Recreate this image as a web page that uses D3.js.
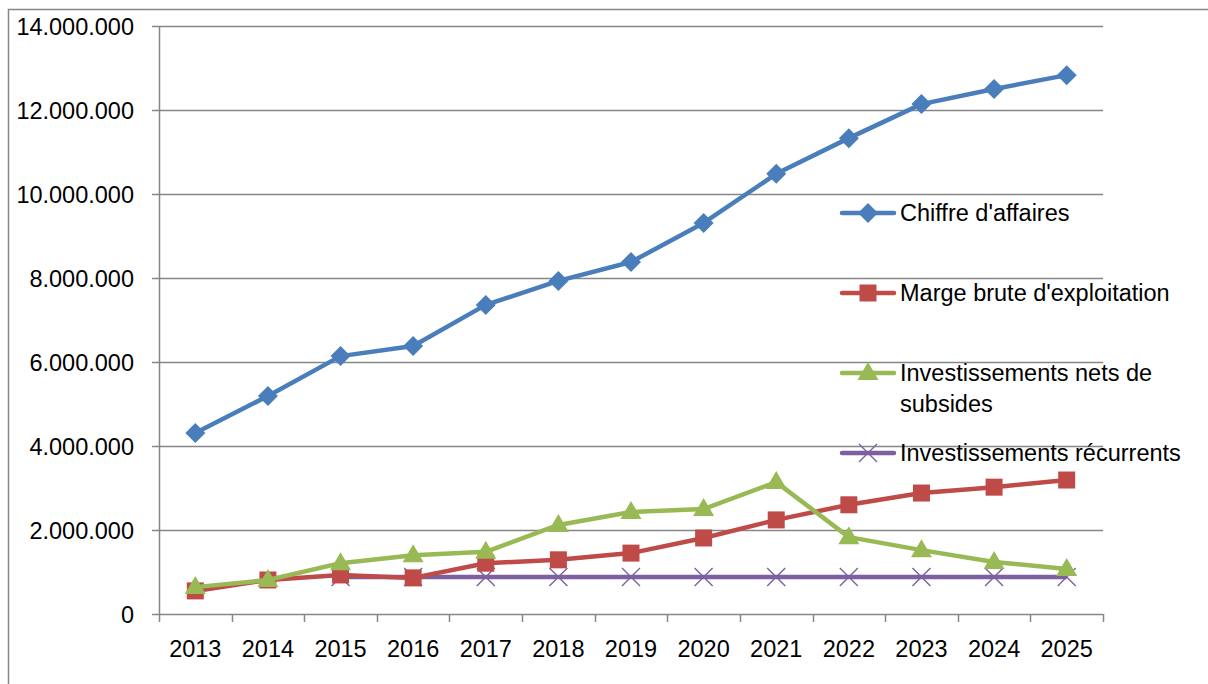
<!DOCTYPE html>
<html><head><meta charset="utf-8">
<script src="https://cdn.jsdelivr.net/npm/d3@7"></script>
<style>body{margin:0;background:#fff}svg{display:block}text{font-family:"Liberation Sans",Arial,sans-serif}</style>
</head><body><svg id="c" width="1208" height="684"></svg>
<script>
const years = ["2013","2014","2015","2016","2017","2018","2019","2020","2021","2022","2023","2024","2025"];
const chiffre = [4310000,5190000,6140000,6380000,7360000,7930000,8380000,9310000,10480000,11330000,12140000,12500000,12830000];
const marge = [550000,810000,930000,860000,1210000,1290000,1450000,1810000,2240000,2600000,2880000,3020000,3190000];
const invNets = [640000,810000,1210000,1400000,1480000,2120000,2430000,2500000,3140000,1830000,1520000,1240000,1070000];
const invRec = [null,null,880000,880000,880000,880000,880000,880000,880000,880000,880000,880000,880000];
const yTicks = [0,2000000,4000000,6000000,8000000,10000000,12000000,14000000];
const seriesNames = ["Chiffre d'affaires","Marge brute d'exploitation","Investissements nets de subsides","Investissements récurrents"];

const svg = d3.select("#c");
const L=159,R=1103,T=26,B=614;
const x = d3.scaleBand().domain(years).range([L,R]);
const y = d3.scaleLinear().domain([0,14000000]).range([B,T]);
const grey="#868686";
const fs=23.5;
const fmt = v => d3.format(",")(v).replace(/,/g,".");

svg.append("path").attr("d","M8.5,690V9.5H1215").attr("fill","none").attr("stroke",grey).attr("stroke-width",1.5);

svg.append("g").selectAll("line").data(yTicks).join("line")
  .attr("x1",L-7).attr("x2",R).attr("y1",d=>Math.round(y(d))+0.5).attr("y2",d=>Math.round(y(d))+0.5)
  .attr("stroke",grey).attr("stroke-width",1.5);
svg.append("g").selectAll("text").data(yTicks).join("text")
  .attr("x",134).attr("y",d=>y(d)+8.5).attr("text-anchor","end").attr("font-size",fs).attr("fill","#000").text(fmt);
svg.append("line").attr("x1",L+0.5).attr("x2",L+0.5).attr("y1",T).attr("y2",B).attr("stroke",grey).attr("stroke-width",1.5);
const bounds = years.map(d=>x(d)).concat([R]);
svg.append("g").selectAll("line").data(bounds).join("line")
  .attr("x1",d=>Math.round(d)+0.5).attr("x2",d=>Math.round(d)+0.5).attr("y1",B).attr("y2",B+8)
  .attr("stroke",grey).attr("stroke-width",1.5);
svg.append("g").selectAll("text").data(years).join("text")
  .attr("x",d=>x(d)+x.bandwidth()/2).attr("y",657).attr("text-anchor","middle").attr("font-size",fs).attr("fill","#000").text(d=>d);

const cx = i => x(years[i])+x.bandwidth()/2;
const colors = ["#4A7EBB","#BE4B48","#98B954","#7D60A0"];
const datasets = [chiffre,marge,invNets,invRec];
const line = d3.line().defined(d=>d!=null).x((d,i)=>cx(i)).y(d=>y(d));

function marker(g,k,px,py){
  const c=colors[k];
  if(k===0) g.append("path").attr("d",`M${px},${py-10}L${px+10},${py}L${px},${py+10}L${px-10},${py}Z`).attr("fill",c);
  else if(k===1) g.append("rect").attr("x",px-8.5).attr("y",py-8.5).attr("width",17).attr("height",17).attr("fill",c);
  else if(k===2) g.append("path").attr("d",`M${px},${py-11}L${px+10.5},${py+7}L${px-10.5},${py+7}Z`).attr("fill",c);
  else g.append("path").attr("d",`M${px-9},${py-9}L${px+9},${py+9}M${px+9},${py-9}L${px-9},${py+9}`).attr("stroke",c).attr("stroke-width",1.4);
}

[3,1,2,0].forEach(k=>{
  const g=svg.append("g");
  g.append("path").datum(datasets[k]).attr("d",line).attr("fill","none").attr("stroke",colors[k]).attr("stroke-width",4.5).attr("stroke-linejoin","round");
  datasets[k].forEach((v,i)=>{ if(v!=null) marker(g,k,cx(i),y(v)); });
});

const legY=[213,293,373,453];
seriesNames.forEach((n,k)=>{
  const g=svg.append("g");
  g.append("line").attr("x1",842).attr("x2",894).attr("y1",legY[k]).attr("y2",legY[k]).attr("stroke",colors[k]).attr("stroke-width",4.5).attr("stroke-linecap","round");
  marker(g,k,868,legY[k]);
  const t=g.append("text").attr("x",900).attr("y",legY[k]+8).attr("font-size",fs).attr("fill","#000");
  if(k===2){
    t.append("tspan").attr("x",900).text("Investissements nets de");
    t.append("tspan").attr("x",900).attr("dy",31).text("subsides");
  } else t.text(n);
});
</script></body></html>
